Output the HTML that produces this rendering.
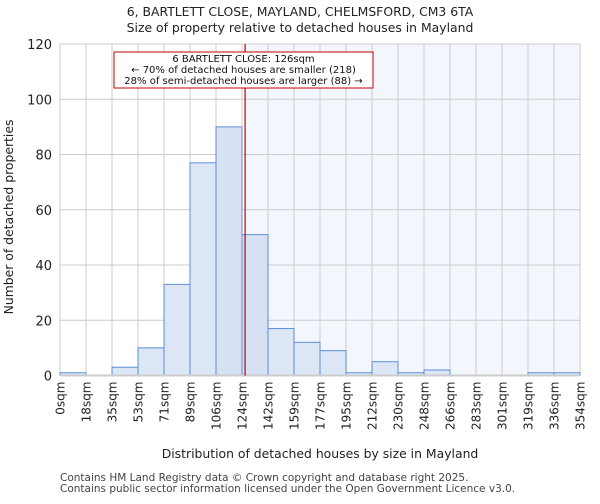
<!DOCTYPE html>
<html><head><meta charset="utf-8"><style>
body{margin:0;background:#fff;font-family:"DejaVu Sans","Liberation Sans",sans-serif}
</style></head><body>
<svg id="c" width="600" height="500" font-family="DejaVu Sans, Liberation Sans, sans-serif"></svg>
<script>
const tickLabels=["0sqm","18sqm","35sqm","53sqm","71sqm","89sqm","106sqm","124sqm","142sqm","159sqm","177sqm","195sqm","212sqm","230sqm","248sqm","266sqm","283sqm","301sqm","319sqm","336sqm","354sqm"];
const binEdges=[0,17.7,35.4,53.1,70.8,88.5,106.2,123.9,141.6,159.3,177,194.7,212.4,230.1,247.8,265.5,283.2,300.9,318.6,336.3,354];
const counts=[1,0,3,10,33,77,90,51,17,12,9,1,5,1,2,0,0,0,1,1];
const yTicks=[0,20,40,60,80,100,120];
const subjectSize=126;
const svg=document.getElementById('c');const NS='http://www.w3.org/2000/svg';
const X0=60,X1=580,Y0=375.5,Y1=44;
const x=v=>X0+(v-binEdges[0])/(binEdges[binEdges.length-1]-binEdges[0])*(X1-X0);
const y=v=>Y0-v/120*(Y0-Y1);
function el(t,a,p){const e=document.createElementNS(NS,t);for(const k in a)e.setAttribute(k,a[k]);(p||svg).appendChild(e);return e;}
let bg=el('rect',{x:X0,y:Y1,width:X1-X0,height:Y0-Y1,fill:'#fff'});


let sh=el('rect',{x:x(subjectSize),y:Y1,width:X1-x(subjectSize),height:Y0-Y1,fill:'#f3f6fd'});


binEdges.forEach((b,i)=>{let g=el('line',{x1:x(b),x2:x(b),y1:Y1,y2:Y0,stroke:'#cccccc','stroke-width':1});


let t=el('text',{x:0,y:0,'font-size':12,fill:'#222','text-anchor':'end',transform:`translate(${x(b)+4.5},${Y0+6}) rotate(-90)`});t.textContent=tickLabels[i];

});
yTicks.forEach(v=>{let g=el('line',{x1:X0,x2:X1,y1:y(v),y2:y(v),stroke:'#cccccc','stroke-width':1});


let t=el('text',{x:X0-8,y:y(v)+5,'font-size':13,fill:'#222','text-anchor':'end'});t.textContent=v;

});
counts.forEach((c,i)=>{if(c<=0)return;const x0=x(binEdges[i]),x1=x(binEdges[i+1]);
let r=el('rect',{x:x0,y:y(c),width:x1-x0,height:Y0-y(c),fill:x0>=x(subjectSize)-30&&x0<x(subjectSize)?'#d6e1f3':'#dde6f5',stroke:'#5b8fd8','stroke-width':1});

});
let ax=el('line',{x1:X0,x2:X1,y1:Y0,y2:Y0,stroke:'#ccc','stroke-width':2});


let ml=el('line',{x1:x(subjectSize),x2:x(subjectSize),y1:Y1,y2:Y0,stroke:'#c00000','stroke-width':1.2});


let ab=el('rect',{x:114,y:52,width:259,height:36,fill:'#fff',stroke:'#c00000','stroke-width':1});


[["6 BARTLETT CLOSE: 126sqm",63],["← 70% of detached houses are smaller (218)",74],["28% of semi-detached houses are larger (88) →",85]].forEach(([s,yy])=>{let t=el('text',{x:243.5,y:yy-1,'font-size':10,fill:'#111','text-anchor':'middle'});t.textContent=s;

});
let t1=el('text',{x:300,y:16,'font-size':12.4,fill:'#222','text-anchor':'middle'});t1.textContent='6, BARTLETT CLOSE, MAYLAND, CHELMSFORD, CM3 6TA';


let t2=el('text',{x:300,y:32,'font-size':12.4,fill:'#222','text-anchor':'middle'});t2.textContent='Size of property relative to detached houses in Mayland';


let xt=el('text',{x:320,y:458,'font-size':12.4,fill:'#222','text-anchor':'middle'});xt.textContent='Distribution of detached houses by size in Mayland';


let yt=el('text',{x:0,y:0,'font-size':12.4,fill:'#222','text-anchor':'middle',transform:'translate(13,217) rotate(-90)'});yt.textContent='Number of detached properties';


[["Contains HM Land Registry data © Crown copyright and database right 2025.",481],["Contains public sector information licensed under the Open Government Licence v3.0.",492]].forEach(([s,yy])=>{let t=el('text',{x:60,y:yy,'font-size':10.5,fill:'#444'});t.textContent=s;

});
</script>
</body></html>
